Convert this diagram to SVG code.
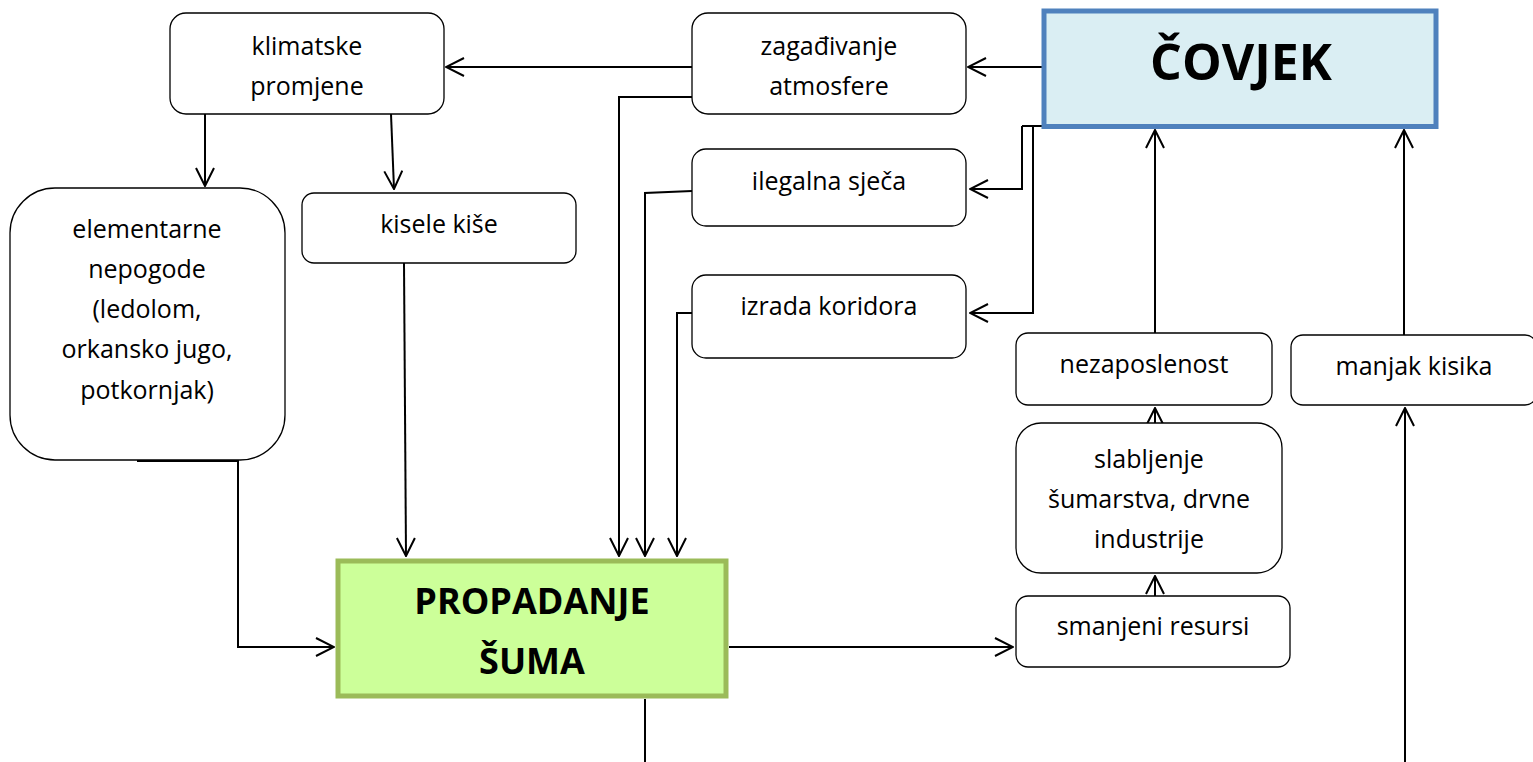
<svg xmlns="http://www.w3.org/2000/svg" width="1533" height="762" viewBox="0 0 1533 762">
<defs>
<marker id="arr" viewBox="0 0 20 20" refX="19" refY="10" markerWidth="20" markerHeight="20" markerUnits="userSpaceOnUse" orient="auto">
<path d="M1,1 L19,10 L1,19" fill="none" stroke="#000" stroke-width="2"/>
</marker>
<style>
.box{fill:#fff;stroke:#000;stroke-width:1.3}
.t{font-family:"Open Sans","Noto Sans","Liberation Sans",sans-serif;font-size:25px;fill:#000;text-anchor:middle}
.b{font-family:"Open Sans","Noto Sans","Liberation Sans",sans-serif;font-weight:bold;fill:#000;text-anchor:middle}
.c{fill:none;stroke:#000;stroke-width:2}
.a{marker-end:url(#arr)}
</style>
</defs>
<rect width="1533" height="762" fill="#fff"/>
<g id="connectors">
<path class="c a" d="M1042,67 L968,67"/>
<path class="c a" d="M692,67 L446,67"/>
<path class="c a" d="M205,114 L205,186"/>
<path class="c a" d="M391,114 L394,189"/>
<path class="c a" d="M404,263 L406,556"/>
<path class="c a" d="M137,461 L238,461 L238,647 L334,647"/>
<path class="c a" d="M692,97 L619,97 L619,556"/>
<path class="c a" d="M692,191 L645,193 L645,556"/>
<path class="c a" d="M692,313 L677,313 L677,556"/>
<path class="c" d="M1102,126 L1022,126"/>
<path class="c a" d="M1022,126 L1022,189 L970,189"/>
<path class="c a" d="M1033,126 L1033,313 L970,313"/>
<path class="c a" d="M1155,333 L1155,130"/>
<path class="c a" d="M1404,335 L1404,130"/>
<path class="c a" d="M1155,423 L1155,408"/>
<path class="c a" d="M1155,596 L1155,576"/>
<path class="c a" d="M729,647 L1013,647"/>
<path class="c" d="M645,699 L645,762"/>
<path class="c a" d="M1405,762 L1405,408"/>
</g>
<g id="klimatske">
<rect class="box" x="170" y="13" width="274" height="101" rx="16"/>
<text class="t" x="307" y="55">klimatske</text>
<text class="t" x="307" y="95">promjene</text>
</g>
<g id="zagadivanje">
<rect class="box" x="692" y="13" width="274" height="101" rx="16"/>
<text class="t" x="829" y="55">zagađivanje</text>
<text class="t" x="829" y="95">atmosfere</text>
</g>
<g id="covjek">
<rect x="1044" y="11" width="392" height="115.5" fill="#DAEEF3" stroke="#4F81BD" stroke-width="5"/>
<text class="b" x="1241" y="80" font-size="50">ČOVJEK</text>
</g>
<g id="ilegalna">
<rect class="box" x="692" y="149" width="274" height="77" rx="14"/>
<text class="t" x="829" y="190">ilegalna sječa</text>
</g>
<g id="izrada">
<rect class="box" x="692" y="275" width="274" height="83" rx="14"/>
<text class="t" x="829" y="315">izrada koridora</text>
</g>
<g id="kisele">
<rect class="box" x="302" y="193" width="274" height="70" rx="12"/>
<text class="t" x="439" y="233">kisele kiše</text>
</g>
<g id="elementarne">
<rect class="box" x="10" y="188" width="275" height="272" rx="45"/>
<text class="t" x="147" y="238">elementarne</text>
<text class="t" x="147" y="278">nepogode</text>
<text class="t" x="147" y="318">(ledolom,</text>
<text class="t" x="147" y="358">orkansko jugo,</text>
<text class="t" x="147" y="399">potkornjak)</text>
</g>
<g id="propadanje">
<rect x="338" y="561" width="388" height="135" fill="#CCFF99" stroke="#9BBB59" stroke-width="5"/>
<text class="b" x="532" y="614" font-size="36">PROPADANJE</text>
<text class="b" x="532" y="674" font-size="36">ŠUMA</text>
</g>
<g id="nezaposlenost">
<rect class="box" x="1016" y="333" width="256" height="72" rx="12"/>
<text class="t" x="1144" y="373">nezaposlenost</text>
</g>
<g id="manjak">
<rect class="box" x="1291" y="335" width="246" height="70" rx="12"/>
<text class="t" x="1414" y="375">manjak kisika</text>
</g>
<g id="slabljenje">
<rect class="box" x="1016" y="423" width="266" height="150" rx="25"/>
<text class="t" x="1149" y="468">slabljenje</text>
<text class="t" x="1149" y="508">šumarstva, drvne</text>
<text class="t" x="1149" y="548">industrije</text>
</g>
<g id="smanjeni">
<rect class="box" x="1016" y="596" width="274" height="71" rx="12"/>
<text class="t" x="1153" y="635">smanjeni resursi</text>
</g>
</svg>
